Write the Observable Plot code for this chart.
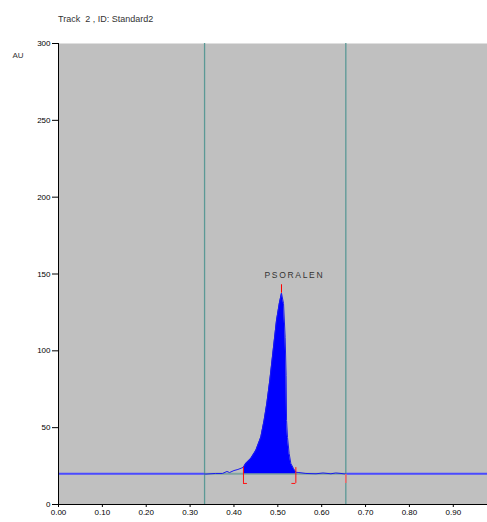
<!DOCTYPE html>
<html>
<head>
<meta charset="utf-8">
<script src="https://cdn.jsdelivr.net/npm/d3@7"></script>
<script src="https://cdn.jsdelivr.net/npm/@observablehq/plot@0.6"></script>
<style>
  html, body { margin: 0; padding: 0; background: #ffffff; }
  #title { height: 30px; box-sizing: border-box; padding: 14px 0 0 58px; font: 9px "Liberation Sans", Arial, sans-serif; line-height: 10px; color: #333; white-space: pre; }
</style>
</head>
<body>
<div id="title">Track  2 , ID: Standard2</div>
<div id="chart"></div>
<script>
const titleText = "Track  2 , ID: Standard2";
const yLabel = "AU";
const peakName = "PSORALEN";
const xTicks = [0, 0.1, 0.2, 0.3, 0.4, 0.5, 0.6, 0.7, 0.8, 0.9];
const yTicks = [0, 50, 100, 150, 200, 250, 300];
const baselineValue = 20;
const windowStart = 0.333;
const windowEnd = 0.655;
const peakStart = 0.4217;
const peakEnd = 0.5411;
const peakApex = 0.5084;
const peakApexValue = 137.5;
const peakMarkTop = 143;
const bracketBottom = 13.7;

const traceX = [0.333, 0.336, 0.358, 0.374, 0.384, 0.390, 0.400, 0.409, 0.418, 0.4217,
  0.4269, 0.4384, 0.4498, 0.4612, 0.4687, 0.4749, 0.4817, 0.4886, 0.4970, 0.5034,
  0.5084, 0.5130, 0.5167, 0.5189, 0.5199, 0.5221, 0.5258, 0.5297, 0.5358, 0.5411,
  0.548, 0.564, 0.587, 0.603, 0.621, 0.632, 0.644, 0.655];
const traceY = [19.9, 19.8, 20.2, 20.2, 21.5, 20.8, 22.1, 22.8, 23.8, 24.3,
  26.7, 29.9, 35.1, 43.8, 54.7, 65.7, 80.7, 98.3, 119.7, 130.8,
  137.5, 130.8, 108.7, 83.9, 54.7, 43.6, 33.2, 26.7, 23.4, 21.0,
  20.8, 20.2, 20.0, 20.5, 20.0, 20.5, 20.2, 19.8];

const trace = traceX.map((x, i) => ({x, y: traceY[i]}));
const peak = trace.filter(d => d.x >= peakStart && d.x <= peakEnd);
const xMax = 0.978;

const chart = Plot.plot({
  width: 487,
  height: 492,
  marginTop: 13,
  marginLeft: 58,
  marginRight: 0,
  marginBottom: 18,
  style: {fontFamily: "'Liberation Sans', Arial, sans-serif", fontSize: "8px", color: "#000", background: "#fff"},
  x: {domain: [0, xMax]},
  y: {domain: [0, 300]},
  marks: [
    Plot.frame({fill: "#c0c0c0", stroke: null}),
    Plot.ruleY([baselineValue], {x1: 0, x2: windowStart, stroke: "#4a4aff", strokeWidth: 1.8}),
    Plot.ruleY([baselineValue], {x1: windowEnd, x2: xMax, stroke: "#4a4aff", strokeWidth: 1.8}),
    Plot.ruleY([baselineValue], {x1: windowStart, x2: windowEnd, stroke: "#7fa3a0", strokeWidth: 1.8}),
    Plot.ruleX([windowStart, windowEnd], {y1: 0, y2: 300, stroke: "#5b9996", strokeWidth: 1.3}),
    Plot.areaY(peak, {x: "x", y1: () => baselineValue, y2: "y", fill: "#0000ff", curve: "linear"}),
    Plot.line(trace, {x: "x", y: "y", stroke: "#1a1aee", strokeWidth: 1}),
    Plot.ruleX([peakStart], {y1: bracketBottom, y2: traceY[traceX.indexOf(peakStart)], stroke: "#ff1010", strokeWidth: 1}),
    Plot.ruleY([bracketBottom], {x1: peakStart, x2: peakStart + 0.009, stroke: "#ff1010", strokeWidth: 1}),
    Plot.ruleX([peakEnd], {y1: bracketBottom, y2: 24, stroke: "#ff1010", strokeWidth: 1}),
    Plot.ruleY([bracketBottom], {x1: peakEnd - 0.009, x2: peakEnd, stroke: "#ff1010", strokeWidth: 1}),
    Plot.ruleX([windowEnd], {y1: bracketBottom, y2: baselineValue - 0.5, stroke: "#f06a6a", strokeWidth: 1.6}),
    Plot.ruleX([peakApex], {y1: peakApexValue, y2: peakMarkTop, stroke: "#ff0000", strokeWidth: 1}),
    Plot.text([peakName], {x: peakApex, y: peakMarkTop, text: d => d.split("").join("\u2009"), dy: -9, dx: 12, fontSize: 8.5, fill: "#333", textAnchor: "middle"}),
    Plot.ruleX([0], {stroke: "#000", strokeWidth: 1}),
    Plot.ruleY([0], {stroke: "#000", strokeWidth: 1}),
    Plot.axisY({ticks: yTicks, tickSize: 6, tickPadding: 2, label: null, fontSize: 8}),
    Plot.axisX({ticks: xTicks, tickSize: 3, tickPadding: 2, tickFormat: d3.format(".2f"), label: null, fontSize: 8}),
    Plot.text([yLabel], {frameAnchor: "top-left", dx: -46, dy: 9, fontSize: 8, fill: "#333", textAnchor: "start"})
  ]
});
document.getElementById("chart").appendChild(chart);
</script>
</body>
</html>
